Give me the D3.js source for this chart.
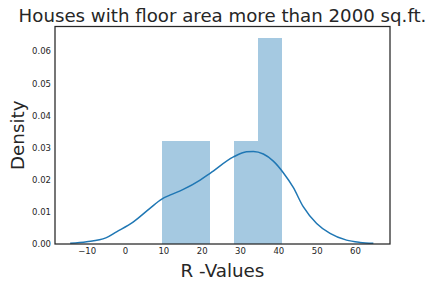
<!DOCTYPE html>
<html>
<head>
<meta charset="utf-8">
<script src="https://cdn.jsdelivr.net/npm/d3@7"></script>
<style>
  body { margin: 0; background: #fff; }
  text { font-family: "DejaVu Sans", sans-serif; fill: #262626; }
</style>
</head>
<body>
<svg width="431" height="287"></svg>
<script>
// histogram bins (edges) and their densities
const binEdges = [9.65, 15.9, 22.15, 28.4, 34.65, 40.9];
const binDensity = [0.032, 0.032, 0, 0.032, 0.064];

// kde curve
const kdeX = [-14.3, -10, -5, -2.2, 2.2, 6.5, 9.6, 11.7, 15.2, 19.6, 22.2, 28.3, 31.7, 33.5, 36.1, 38.7, 41.3, 43.9, 46.5, 50, 53.5, 57.8, 61.3, 64.8];
const kdeY = [0.0002, 0.0007, 0.0019, 0.0038, 0.0069, 0.0111, 0.0140, 0.0152, 0.0170, 0.0199, 0.0220, 0.0271, 0.0287, 0.0288, 0.0280, 0.0258, 0.0222, 0.0176, 0.0116, 0.0064, 0.0033, 0.0012, 0.0005, 0.0002];

const xTicks = [-10, 0, 10, 20, 30, 40, 50, 60];
const yTicks = [0, 0.01, 0.02, 0.03, 0.04, 0.05, 0.06];

// plot area
const plotLeft = 55, plotRight = 390, plotTop = 26.5, plotBottom = 244;

const svg = d3.select('svg');

const xScale = d3.scaleLinear()
    .domain([-18.26, 69.14])
    .range([plotLeft, plotRight]);
const yScale = d3.scaleLinear()
    .domain([0, 0.0677])
    .range([plotBottom, plotTop]);

// bars
svg.append('g')
    .selectAll('rect')
    .data(binDensity)
    .enter()
    .append('rect')
    .attr('x', (d, i) => xScale(binEdges[i]))
    .attr('width', (d, i) => xScale(binEdges[i + 1]) - xScale(binEdges[i]))
    .attr('y', d => yScale(d))
    .attr('height', d => plotBottom - yScale(d))
    .attr('fill', '#a5c9e1')
    .attr('shape-rendering', 'crispEdges');

// kde line
const line = d3.line()
    .x(d => xScale(d[0]))
    .y(d => yScale(d[1]))
    .curve(d3.curveMonotoneX);
svg.append('path')
    .datum(kdeX.map((x, i) => [x, kdeY[i]]))
    .attr('d', line)
    .attr('fill', 'none')
    .attr('stroke', '#1f77b4')
    .attr('stroke-width', 1.5);

// axes
svg.append('g')
    .attr('transform', `translate(0, ${plotBottom})`)
    .call(d3.axisBottom(xScale).tickValues(xTicks).tickSize(0).tickPadding(4)
        .tickFormat(d => d < 0 ? '\u2212' + Math.abs(d) : d))
    .call(g => g.select('.domain').remove())
    .selectAll('text')
    .attr('font-size', '8.5px')
    .attr('font-family', '"DejaVu Sans", sans-serif')
    .attr('fill', '#262626');

svg.append('g')
    .attr('transform', `translate(${plotLeft}, 0)`)
    .call(d3.axisLeft(yScale).tickValues(yTicks).tickSize(0).tickPadding(4)
        .tickFormat(d3.format('.2f')))
    .call(g => g.select('.domain').remove())
    .selectAll('text')
    .attr('font-size', '8.5px')
    .attr('font-family', '"DejaVu Sans", sans-serif')
    .attr('fill', '#262626');

// frame
svg.append('rect')
    .attr('x', plotLeft)
    .attr('y', plotTop)
    .attr('width', plotRight - plotLeft)
    .attr('height', plotBottom - plotTop)
    .attr('fill', 'none')
    .attr('stroke', '#262626')
    .attr('stroke-width', 1.25);

// labels
svg.append('text')
    .attr('x', (plotLeft + plotRight) / 2)
    .attr('y', 22)
    .attr('text-anchor', 'middle')
    .attr('font-size', '18.2px')
    .text('Houses with floor area more than 2000 sq.ft.');

svg.append('text')
    .attr('x', (plotLeft + plotRight) / 2)
    .attr('y', 277)
    .attr('text-anchor', 'middle')
    .attr('font-size', '18.3px')
    .text('R -Values');

svg.append('text')
    .attr('transform', `translate(24, ${(plotTop + plotBottom) / 2}) rotate(-90)`)
    .attr('text-anchor', 'middle')
    .attr('font-size', '18.3px')
    .text('Density');
</script>
</body>
</html>
